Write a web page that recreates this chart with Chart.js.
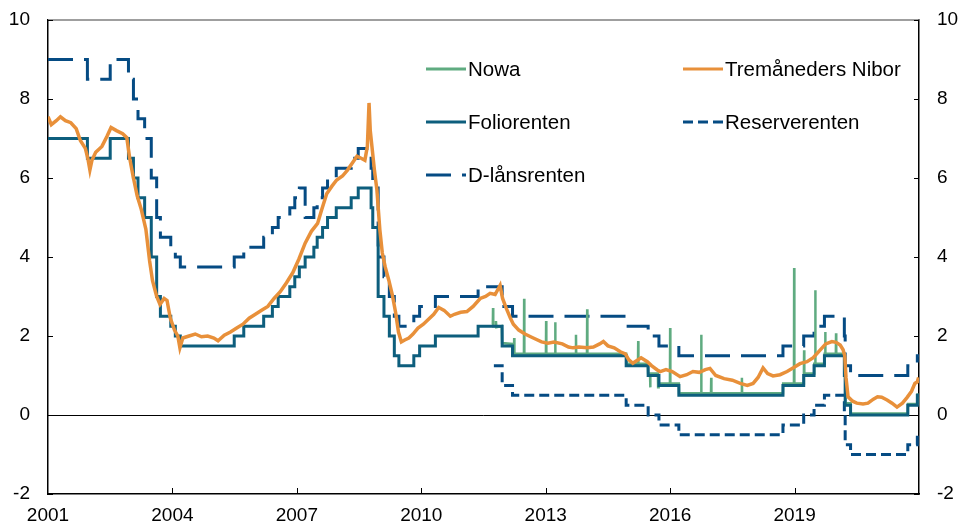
<!DOCTYPE html>
<html>
<head>
<meta charset="utf-8">
<script src="https://cdn.jsdelivr.net/npm/chart.js@4.4.0/dist/chart.umd.min.js"></script>
<style>
	body { margin: 0; background: #fff; }
	canvas { display: block; }
</style>
</head>
<body>
<canvas id="rateChart" width="960" height="528"></canvas>
<script>
// x values are decimal years
const tickYears = [2001, 2004, 2007, 2010, 2013, 2016, 2019];

const folioDates = [2001.00, 2001.95, 2002.50, 2002.94, 2003.06, 2003.17, 2003.33, 2003.49, 2003.62, 2003.71, 2003.96, 2004.07, 2004.19,
	2005.49, 2005.72, 2006.20, 2006.41, 2006.55, 2006.83, 2006.95, 2007.06, 2007.20, 2007.41, 2007.49, 2007.62, 2007.74, 2007.95,
	2008.31, 2008.48, 2008.79, 2008.83, 2008.96, 2009.10, 2009.23, 2009.35, 2009.46, 2009.82, 2009.96, 2010.34, 2011.37, 2011.95,
	2012.20, 2014.94, 2015.47, 2015.73, 2016.21, 2018.72, 2019.22, 2019.47, 2019.72, 2020.20, 2020.22, 2020.35, 2021.73, 2021.96, 2022.00];
const folioRates = [7.0, 6.5, 7.0, 6.5, 6.0, 5.5, 5.0, 4.0, 3.0, 2.5, 2.25, 2.0, 1.75,
	2.0, 2.25, 2.5, 2.75, 3.0, 3.25, 3.5, 3.75, 4.0, 4.25, 4.5, 4.75, 5.0, 5.25,
	5.5, 5.75, 5.25, 4.75, 3.0, 2.5, 2.0, 1.5, 1.25, 1.5, 1.75, 2.0, 2.25, 1.75,
	1.5, 1.25, 1.0, 0.75, 0.5, 0.75, 1.0, 1.25, 1.5, 1.0, 0.25, 0.0, 0.25, 0.5, 0.5];

const dlanDates = folioDates;
const dlanRates = [9.0, 8.5, 9.0, 8.5, 8.0, 7.5, 7.0, 6.0, 5.0, 4.5, 4.25, 4.0, 3.75,
	4.0, 4.25, 4.5, 4.75, 5.0, 5.25, 5.5, 5.75, 5.0, 5.25, 5.5, 5.75, 6.0, 6.25,
	6.5, 6.75, 6.25, 5.75, 4.0, 3.5, 3.0, 2.5, 2.25, 2.5, 2.75, 3.0, 3.25, 2.75,
	2.5, 2.25, 2.0, 1.75, 1.5, 1.75, 2.0, 2.25, 2.5, 2.0, 1.25, 1.0, 1.25, 1.5, 1.5];

const reserveDates = [2011.75, 2011.95, 2012.20, 2014.94, 2015.47, 2015.73, 2016.21, 2018.72, 2019.22, 2019.47, 2019.72,
	2020.20, 2020.22, 2020.35, 2021.73, 2021.96, 2022.00];
const reserveRates = [1.25, 0.75, 0.5, 0.25, 0.0, -0.25, -0.5, -0.25, 0.0, 0.25, 0.5,
	0.0, -0.75, -1.0, -0.75, -0.5, -0.5];

const niborDates = [2001.00, 2001.08, 2001.20, 2001.30, 2001.42, 2001.55, 2001.68, 2001.78, 2001.90, 2001.96,
	2002.01, 2002.06, 2002.15, 2002.30, 2002.42, 2002.52, 2002.65, 2002.80, 2002.90, 2002.97,
	2003.05, 2003.15, 2003.25, 2003.36, 2003.45, 2003.52, 2003.62, 2003.70, 2003.80, 2003.87, 2003.95,
	2004.05, 2004.13, 2004.18, 2004.25, 2004.40, 2004.55, 2004.70, 2004.85,
	2005.00, 2005.10, 2005.25, 2005.40, 2005.55, 2005.70, 2005.85,
	2006.00, 2006.15, 2006.30, 2006.45, 2006.60, 2006.75, 2006.90,
	2007.05, 2007.20, 2007.35, 2007.50, 2007.60, 2007.72, 2007.85, 2007.96,
	2008.10, 2008.22, 2008.35, 2008.45, 2008.55, 2008.64, 2008.70, 2008.74, 2008.77, 2008.81, 2008.87, 2008.93,
	2009.00, 2009.06, 2009.13, 2009.22, 2009.30, 2009.38, 2009.45, 2009.52, 2009.60, 2009.70, 2009.80, 2009.92,
	2010.05, 2010.15, 2010.30, 2010.42, 2010.55, 2010.70, 2010.80, 2010.95,
	2011.10, 2011.25, 2011.42, 2011.55, 2011.66, 2011.78, 2011.90, 2011.96,
	2012.05, 2012.15, 2012.22, 2012.35, 2012.50, 2012.70, 2012.90,
	2013.05, 2013.20, 2013.40, 2013.55, 2013.66, 2013.80,
	2014.00, 2014.15, 2014.30, 2014.39, 2014.50, 2014.65, 2014.80, 2014.92,
	2015.00, 2015.10, 2015.20, 2015.30, 2015.45, 2015.55, 2015.69, 2015.76, 2015.90,
	2016.05, 2016.24, 2016.40, 2016.55, 2016.70, 2016.85, 2016.96,
	2017.10, 2017.30, 2017.50, 2017.69, 2017.86,
	2018.00, 2018.12, 2018.24, 2018.35, 2018.48, 2018.65, 2018.82, 2018.98,
	2019.13, 2019.30, 2019.45, 2019.62, 2019.75, 2019.90,
	2020.00, 2020.10, 2020.17, 2020.21, 2020.24, 2020.29, 2020.40, 2020.50, 2020.65, 2020.77, 2020.90,
	2021.00, 2021.10, 2021.23, 2021.35, 2021.47, 2021.60, 2021.71, 2021.82, 2021.90, 2021.96, 2021.99];
const niborRates = [7.55, 7.35, 7.45, 7.55, 7.45, 7.40, 7.25, 6.95, 6.75, 6.50,
	6.20, 6.45, 6.65, 6.80, 7.05, 7.28, 7.20, 7.12, 7.02, 6.50,
	6.05, 5.55, 5.20, 4.70, 3.90, 3.40, 3.00, 2.80, 2.95, 2.90, 2.45,
	2.15, 2.00, 1.70, 1.95, 2.00, 2.05, 1.98, 2.00,
	1.95, 1.88, 2.02, 2.10, 2.20, 2.30, 2.45,
	2.55, 2.65, 2.75, 2.95, 3.12, 3.35, 3.60,
	3.95, 4.35, 4.65, 4.85, 5.20, 5.60, 5.80, 5.95,
	6.05, 6.20, 6.40, 6.55, 6.50, 6.45, 6.80, 7.90, 7.20, 6.80, 6.20, 5.70,
	4.70, 4.10, 3.75, 3.40, 3.05, 2.60, 2.10, 1.85, 1.90, 1.95, 2.05, 2.20,
	2.30, 2.40, 2.55, 2.72, 2.65, 2.50, 2.55, 2.60,
	2.62, 2.75, 2.95, 3.00, 3.08, 3.05, 3.28, 2.95,
	2.70, 2.45, 2.30, 2.15, 2.05, 1.95, 1.85,
	1.82, 1.85, 1.80, 1.72, 1.70, 1.72,
	1.70, 1.72, 1.80, 1.86, 1.75, 1.70, 1.60, 1.55,
	1.40, 1.31, 1.38, 1.45, 1.35, 1.25, 1.14, 1.10, 1.15,
	1.10, 0.97, 1.02, 1.10, 1.08, 1.15, 1.18,
	1.00, 0.92, 0.88, 0.80, 0.75,
	0.80, 0.95, 1.19, 1.05, 0.99, 1.02, 1.10, 1.20,
	1.30, 1.35, 1.45, 1.65, 1.80, 1.86,
	1.84, 1.77, 1.65, 1.50, 0.95, 0.46, 0.35, 0.30, 0.28, 0.30, 0.40,
	0.46, 0.45, 0.38, 0.30, 0.20, 0.30, 0.44, 0.60, 0.80, 0.84, 0.95];

const nowaDates = [2011.70, 2011.725, 2011.73, 2011.735, 2011.79, 2011.80, 2011.81, 2011.94, 2011.95,
	2012.19, 2012.20, 2012.235, 2012.24, 2012.245, 2012.475, 2012.48, 2012.485,
	2013.005, 2013.01, 2013.015, 2013.225, 2013.23, 2013.235, 2013.725, 2013.73, 2013.735,
	2013.995, 2014.00, 2014.005, 2014.94, 2014.945, 2015.225, 2015.23, 2015.235,
	2015.46, 2015.47, 2015.515, 2015.52, 2015.525, 2015.705, 2015.71, 2015.715, 2015.73,
	2015.995, 2016.00, 2016.005, 2016.21, 2016.215, 2016.745, 2016.75, 2016.755,
	2016.985, 2016.99, 2016.995, 2017.725, 2017.73, 2017.735,
	2018.72, 2018.725, 2018.985, 2018.99, 2018.995, 2019.22, 2019.225, 2019.23, 2019.235,
	2019.47, 2019.475, 2019.495, 2019.50, 2019.505, 2019.72, 2019.725, 2019.735, 2019.74, 2019.745,
	2019.995, 2020.00, 2020.005, 2020.20, 2020.205, 2020.22, 2020.225, 2020.35, 2020.355,
	2021.73, 2021.735, 2021.96, 2021.965, 2021.99];
const nowaRates = [2.30, 2.30, 2.71, 2.25, 2.25, 2.38, 2.22, 2.25, 1.82,
	1.80, 1.55, 1.55, 1.95, 1.55, 1.55, 2.94, 1.55,
	1.55, 2.38, 1.55, 1.55, 2.35, 1.55, 1.55, 2.03, 1.55,
	1.55, 2.68, 1.55, 1.55, 1.30, 1.30, 1.87, 1.30,
	1.30, 1.05, 1.05, 0.70, 1.05, 1.05, 0.70, 1.00, 0.80,
	0.80, 2.20, 0.80, 0.80, 0.55, 0.55, 2.03, 0.55,
	0.55, 0.94, 0.55, 0.55, 0.94, 0.55,
	0.55, 0.80, 0.80, 3.72, 0.80, 0.80, 1.05, 1.64, 1.05,
	1.05, 1.30, 1.30, 3.16, 1.30, 1.30, 1.55, 1.55, 2.10, 1.55,
	1.55, 2.07, 1.55, 1.55, 1.05, 1.05, 0.30, 0.30, 0.04,
	0.04, 0.28, 0.28, 0.52, 0.52];

const legendOrder = ['Nowa', 'Tremåneders Nibor', 'Foliorenten', 'Reserverenten', 'D-lånsrenten'];

function pts(xs, ys) {
	return xs.map((x, i) => ({x: x, y: ys[i]}));
}

// fixed axis boxes so the plot area lands where the original has it
function fitY(width) {
	return s => {
		s.width = width;
		s.paddingTop = 0;
		s.paddingBottom = 0;
	};
}

Chart.defaults.font.family = "'Liberation Sans', Arial, sans-serif";
Chart.defaults.font.size = 19;
Chart.defaults.color = '#000';

// inward tick marks, top frame line and the two-column legend
const framePlugin = {
	id: 'frame',
	afterDraw(chart) {
		const ctx = chart.ctx;
		const a = chart.chartArea;
		const yScale = chart.scales.y;
		const xScale = chart.scales.x;
		ctx.save();
		ctx.strokeStyle = '#7f7f7f';
		ctx.lineWidth = 1.5;
		ctx.beginPath();
		ctx.moveTo(a.left, a.top);
		ctx.lineTo(a.right, a.top);
		ctx.stroke();

		ctx.strokeStyle = '#000';
		ctx.lineWidth = 1;
		ctx.beginPath();
		yScale.ticks.forEach(t => {
			const py = Math.round(yScale.getPixelForValue(t.value)) + 0.5;
			ctx.moveTo(a.left, py);
			ctx.lineTo(a.left + 5, py);
			ctx.moveTo(a.right, py);
			ctx.lineTo(a.right - 5, py);
		});
		tickYears.slice(1).forEach(v => {
			const px = Math.round(xScale.getPixelForValue(v)) + 0.5;
			ctx.moveTo(px, a.bottom);
			ctx.lineTo(px, a.bottom - 6);
		});
		ctx.stroke();

		// legend
		const colX = [a.left + 378, a.left + 635];
		const rowY = [a.top + 49, a.top + 102, a.top + 155];
		ctx.font = "20.5px 'Liberation Sans', Arial, sans-serif";
		ctx.textBaseline = 'middle';
		ctx.fillStyle = '#000';
		legendOrder.forEach((name, i) => {
			const ds = chart.data.datasets.find(d => d.label === name);
			const x = colX[i % 2];
			const y = rowY[Math.floor(i / 2)];
			ctx.save();
			ctx.strokeStyle = ds.borderColor;
			ctx.lineWidth = 3;
			ctx.setLineDash(ds.borderDash || []);
			ctx.beginPath();
			ctx.moveTo(x, y);
			ctx.lineTo(x + 40, y);
			ctx.stroke();
			ctx.restore();
			ctx.fillText(name, x + 42, y + 1);
		});
		ctx.restore();
	}
};

new Chart(document.getElementById('rateChart'), {
	type: 'line',
	data: {
		datasets: [
			{
				label: 'Tremåneders Nibor',
				data: pts(niborDates, niborRates),
				borderColor: '#e8903a',
				borderWidth: 3.5,
				order: 1
			},
			{
				label: 'Foliorenten',
				data: pts(folioDates, folioRates),
				borderColor: '#0d5e7d',
				borderWidth: 3,
				stepped: true,
				order: 2
			},
			{
				label: 'Nowa',
				data: pts(nowaDates, nowaRates),
				borderColor: '#5fab80',
				borderWidth: 2.5,
				order: 3
			},
			{
				label: 'Reserverenten',
				data: pts(reserveDates, reserveRates),
				borderColor: '#054b83',
				borderWidth: 3,
				borderDash: [10, 5],
				stepped: true,
				order: 4
			},
			{
				label: 'D-lånsrenten',
				data: pts(dlanDates, dlanRates),
				borderColor: '#054b83',
				borderWidth: 3,
				borderDash: [25, 11],
				stepped: true,
				order: 5
			}
		]
	},
	options: {
		responsive: false,
		animation: false,
		events: [],
		elements: {
			point: { radius: 0 },
			line: { tension: 0, fill: false, borderCapStyle: 'butt', borderJoinStyle: 'miter' }
		},
		layout: { padding: { top: 20, left: 0, right: 0, bottom: 0 } },
		plugins: {
			legend: { display: false },
			tooltip: { enabled: false }
		},
		scales: {
			x: {
				type: 'linear',
				min: 2001,
				max: 2022,
				afterBuildTicks: s => { s.ticks = tickYears.map(v => ({value: v})); },
				afterFit: s => { s.height = 34; },
				ticks: {
					padding: 10,
					maxRotation: 0,
					autoSkip: false,
					callback: v => String(v)
				},
				grid: { color: 'rgba(0,0,0,0)', drawTicks: false },
				border: { display: true, color: '#000', width: 1.5 }
			},
			y: {
				position: 'left',
				min: -2,
				max: 10,
				afterFit: fitY(48),
				ticks: { stepSize: 2, padding: 18 },
				grid: {
					color: c => c.tick && c.tick.value === 0 ? '#000' : 'rgba(0,0,0,0)',
					lineWidth: 1,
					drawTicks: false
				},
				border: { display: true, color: '#000', width: 1.5 }
			},
			y2: {
				position: 'right',
				min: -2,
				max: 10,
				afterFit: fitY(41),
				ticks: { stepSize: 2, padding: 18 },
				grid: { display: true, drawOnChartArea: false, color: 'rgba(0,0,0,0)', drawTicks: false },
				border: { display: true, color: '#000', width: 1.5 }
			}
		}
	},
	plugins: [framePlugin]
});
</script>
</body>
</html>
